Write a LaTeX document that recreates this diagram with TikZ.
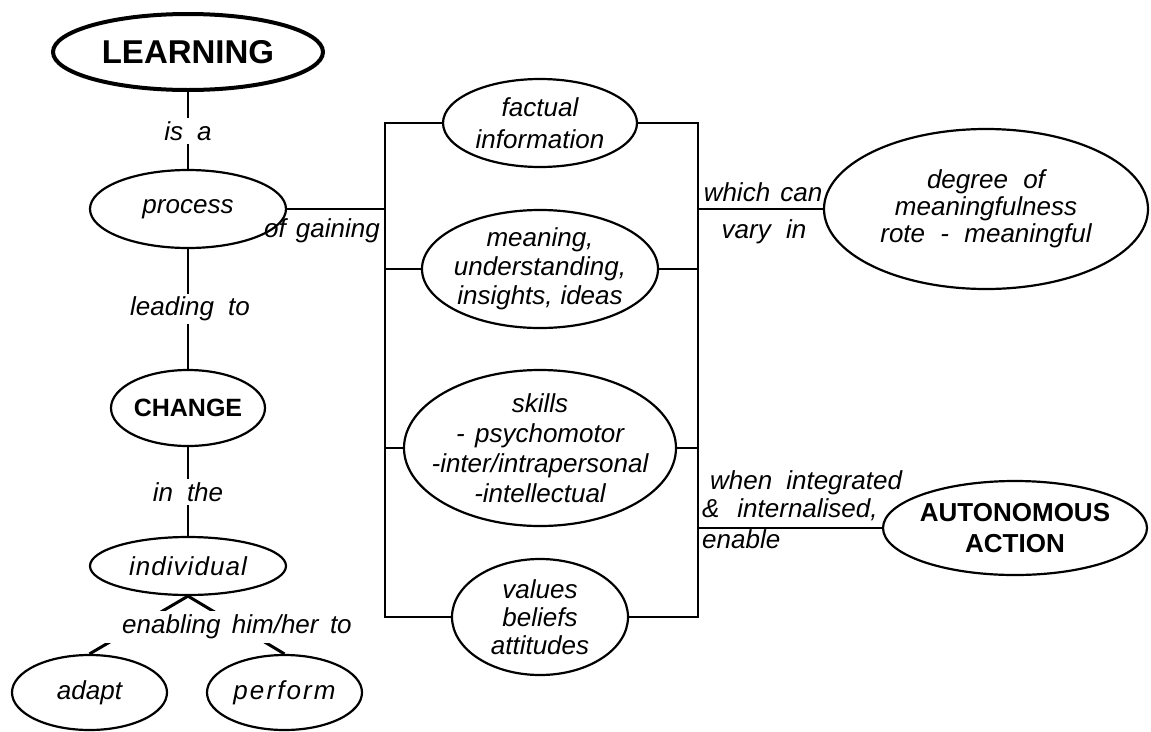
\documentclass[tikz,border=0pt]{standalone}
\usepackage{fontspec}
\setmainfont{Liberation Sans}[WordSpace=1.4]
\newfontfamily\spc{Liberation Sans}[LetterSpace=4,WordSpace=1.4]
\newfontfamily\spcc{Liberation Sans}[LetterSpace=8,WordSpace=1.4]
\usetikzlibrary{shapes.geometric}
\tikzset{
  concept/.style={ellipse, draw, line width=2.2pt, inner xsep=-70pt, inner ysep=-45pt,
    align=center, font=\itshape\fontsize{26}{29}\selectfont},
  boldconcept/.style={concept, font=\bfseries\fontsize{26}{31}\selectfont},
  lab/.style={font=\itshape\fontsize{26}{29}\selectfont, inner sep=3pt},
  cut/.style={lab, fill=white, inner xsep=3pt, inner ysep=3pt},
  link/.style={line width=2pt},
  thicklink/.style={line width=3pt},
}
\begin{document}
\begin{tikzpicture}[x=1pt,y=-1pt]
\useasboundingbox (0,0) rectangle (1151,731);
% left column
\node[boldconcept, line width=4pt, minimum width=270pt, minimum height=76pt,
      font=\bfseries\fontsize{33}{36}\selectfont] (learn) at (188,52) {LEARNING};
\node[concept, minimum width=196pt, minimum height=78pt] (proc) at (188,209) {process};
\node[boldconcept, minimum width=154pt, minimum height=76pt, font=\bfseries\fontsize{25}{30}\selectfont] (chg) at (188,408) {CHANGE};
\node[concept, minimum width=196pt, minimum height=58pt, font=\itshape\spc\fontsize{26}{29}\selectfont] (indiv) at (188,566) {individual};
\node[concept, minimum width=155pt, minimum height=75pt] (adapt) at (89.5,692.5) {adapt};
\node[concept, minimum width=155pt, minimum height=75pt, font=\itshape\spcc\fontsize{26}{29}\selectfont] (perf) at (284.5,692.5) {perform};
% middle column
\node[concept, minimum width=194pt, minimum height=88pt, font=\itshape\fontsize{26}{32}\selectfont] (fact) at (540,123) {factual\\information};
\node[concept, minimum width=236pt, minimum height=118pt] (mean) at (540,269) {meaning,\\understanding,\\insights,\hspace{0.3em}ideas};
\node[concept, minimum width=272pt, minimum height=156pt, font=\itshape\fontsize{26}{30}\selectfont] (skill) at (540,448) {skills\\-\hspace{0.4em}psychomotor\\-inter/intrapersonal\\-intellectual};
\node[concept, minimum width=176pt, minimum height=116pt, font=\itshape\fontsize{26}{28}\selectfont] (val) at (540,617) {values\\beliefs\\attitudes};
% right column
\node[concept, minimum width=324pt, minimum height=160pt, font=\itshape\fontsize{26}{27}\selectfont] (deg) at (986,209) {degree\hspace{0.2em} of\\meaningfulness\\rote\hspace{0.2em} -\hspace{0.2em} meaningful};
\node[boldconcept, minimum width=264pt, minimum height=94pt] (auto) at (1015,528) {AUTONOMOUS\\ACTION};
% bracket corners
\coordinate (LT) at (385,123);
\coordinate (LB) at (385,617);
\coordinate (RT) at (698,123);
\coordinate (RB) at (698,617);
% connectors
\draw[link] (learn.south) -- (proc.north);
\draw[link] (proc.south) -- (chg.north);
\draw[link] (chg.south) -- (indiv.north);
\draw[thicklink] (indiv.south) -- (adapt.north);
\draw[thicklink] (indiv.south) -- (perf.north);
\draw[link] (proc.east) -- (proc.east -| LT);
\draw[link] (fact.west) -- (LT) -- (LB) -- (val.west);
\draw[link] (fact.east) -- (RT) -- (RB) -- (val.east);
\draw[link] (mean.west) -- (mean.west -| LT);
\draw[link] (mean.east) -- (mean.east -| RT);
\draw[link] (skill.west) -- (skill.west -| LT);
\draw[link] (skill.east) -- (skill.east -| RT);
\draw[link] (deg.west -| RT) -- (deg.west);
\draw[link] (auto.west -| RT) -- (auto.west);
% labels
\node[cut] (isa) at (188,131) {is\hspace{0.15em} a};
\node[cut] (leadto) at (190,309) {leading\hspace{0.15em} to};
\node[cut] (inthe) at (188,492) {in\hspace{0.15em} the};
\node[cut, inner xsep=19pt, inner ysep=4pt] (enab) at (237,627) {enabling\hspace{0.05em} him/her\hspace{0.05em} to};
\node[lab] (gain) at (322,231) {of gaining};
\node[lab] (which) at (763,192) {which can};
\node[lab] (vary) at (764,232) {vary\hspace{0.2em} in};
\node[lab, anchor=west] (when) at (707,483) {when\hspace{0.15em} integrated};
\node[lab, anchor=west] (intern) at (699,510) {\&\hspace{0.3em} internalised,};
\node[lab, anchor=west] (enable) at (699,539) {enable};
\end{tikzpicture}
\end{document}
